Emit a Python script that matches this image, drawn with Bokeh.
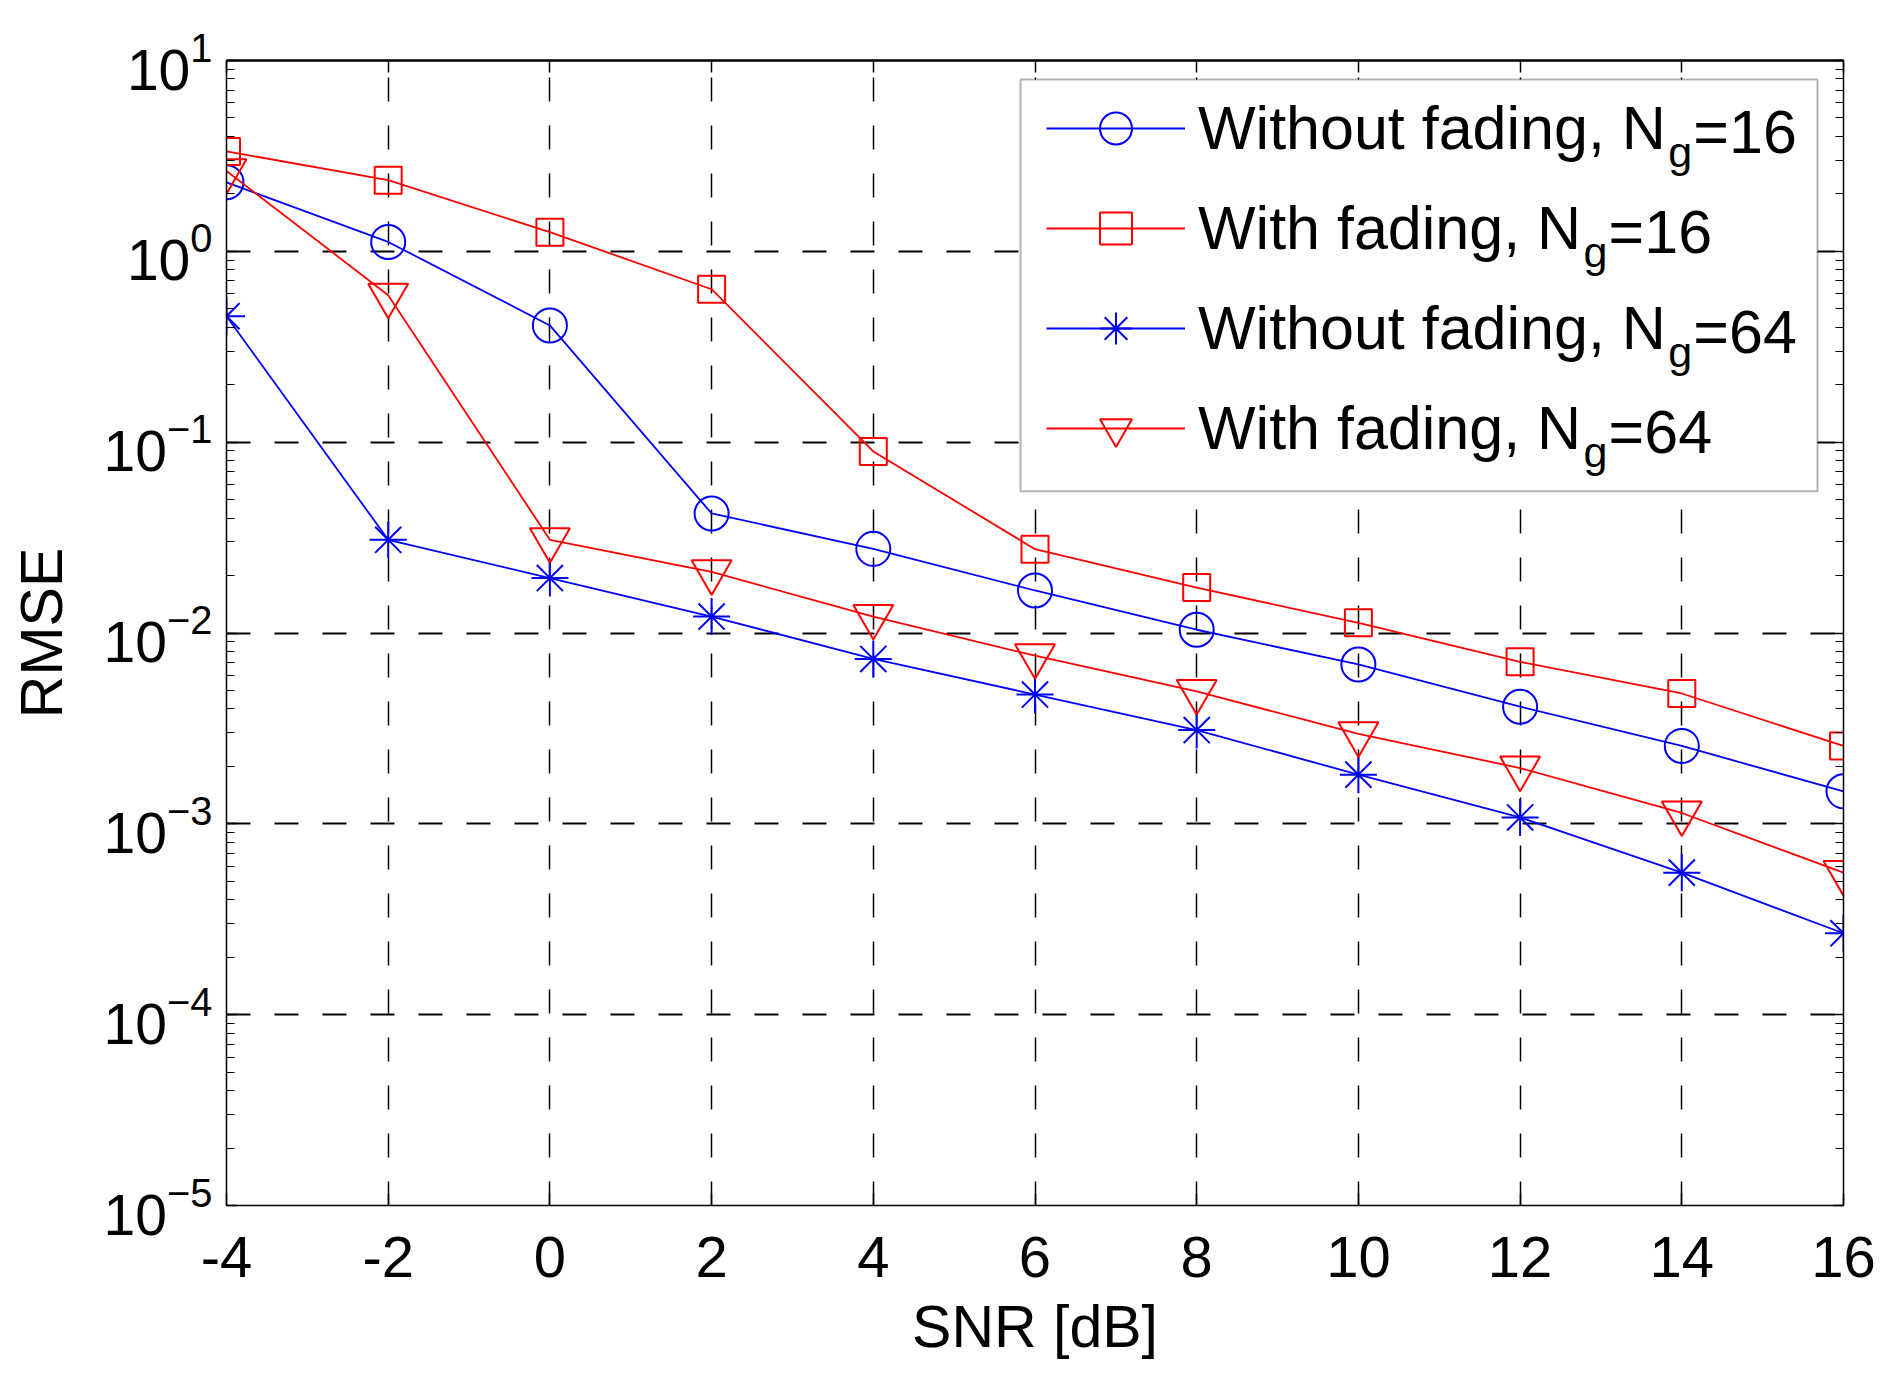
import math
from bokeh.plotting import figure
from bokeh.models import (Range1d, FixedTicker, LogTicker, LinearAxis, LogAxis, Label,
                          Legend, LegendItem, BoxAnnotation, CustomJSTickFormatter,
                          LogTickFormatter)
from bokeh.embed import file_html
from bokeh.resources import INLINE

# ---------------- data ----------------
snr = [-4, -2, 0, 2, 4, 6, 8, 10, 12, 14, 16]
x_ticks = [-4, -2, 0, 2, 4, 6, 8, 10, 12, 14, 16]

rmse_nofade_16 = [2.30, 1.12, 0.409, 0.0423, 0.0276, 0.0167, 0.0104, 0.00684, 0.00411, 0.00256, 0.00148]
rmse_fade_16 = [3.34, 2.36, 1.26, 0.633, 0.0894, 0.0275, 0.0173, 0.0113, 0.00706, 0.00482, 0.00256]
rmse_nofade_64 = [0.457, 0.0308, 0.0194, 0.0122, 0.00731, 0.00476, 0.00310, 0.00181, 0.00108, 0.000555, 0.000267]
rmse_fade_64 = [2.64, 0.589, 0.0308, 0.0209, 0.0122, 0.0076, 0.00494, 0.00296, 0.00196, 0.00114, 0.000555]

legend_main = ["Without fading, N", "With fading, N", "Without fading, N", "With fading, N"]
legend_tail = ["=16", "=16", "=64", "=64"]
legend_sub = "g"

# ---------------- layout ----------------
FONT = "Liberation Sans"
W, H = 1887, 1362
ML, MT = 226, 60
FW, FH = 1617, 1151
MR = W - ML - FW
MB = H - MT - FH
FL, FT = ML, MT
FR, FB = FL + FW, FT + FH
X0, X1 = -4, 16
Y0, Y1 = 1e-5, 1e1
LEG_FS = 61


def xd(px):
    return X0 + (px - FL) / (FR - FL) * (X1 - X0)


def yd(py):
    l0, l1 = math.log10(Y0), math.log10(Y1)
    return 10 ** (l1 - (py - FT) / (FB - FT) * (l1 - l0))


p = figure(width=W, height=H, x_range=Range1d(X0, X1), y_range=Range1d(Y0, Y1),
           y_axis_type="log", output_backend="svg", toolbar_location=None,
           min_border_left=ML, min_border_right=MR, min_border_top=MT, min_border_bottom=MB)
p.background_fill_color = "white"
p.border_fill_color = "white"
p.outline_line_color = None

empty = CustomJSTickFormatter(code="return ''")

# bottom axis
xa = p.xaxis[0]
xa.ticker = FixedTicker(ticks=x_ticks)
xa.major_label_overrides = {t: str(t) for t in x_ticks}
xa.major_label_text_font = FONT
xa.major_label_text_font_size = "58px"
xa.major_label_text_color = "black"
xa.major_label_standoff = 31
xa.axis_label = "SNR [dB]"
xa.axis_label_text_font = FONT
xa.axis_label_text_font_size = "59px"
xa.axis_label_text_font_style = "normal"
xa.axis_label_text_color = "black"
xa.axis_label_standoff = 14

# left axis: 10 with superscript exponent
ya = p.yaxis[0]
ya.ticker = LogTicker(num_minor_ticks=10)
ya.formatter = LogTickFormatter()
ya.major_label_text_font = FONT
ya.major_label_text_font_size = "57px"
ya.major_label_text_color = "black"
ya.major_label_standoff = 14
ya.axis_label = "RMSE"
ya.axis_label_text_font = FONT
ya.axis_label_text_font_size = "59px"
ya.axis_label_text_font_style = "normal"
ya.axis_label_text_color = "black"
ya.axis_label_standoff = 26

top = LinearAxis(ticker=FixedTicker(ticks=x_ticks), formatter=empty)
right = LogAxis(ticker=LogTicker(num_minor_ticks=10), formatter=empty)
p.add_layout(top, "above")
p.add_layout(right, "right")

for ax in [xa, top]:
    ax.axis_line_width = 1.5
    ax.major_tick_in = 12
    ax.major_tick_out = 0
    ax.minor_tick_line_color = None
    ax.major_tick_line_width = 1.5
for ax in [ya, right]:
    ax.axis_line_width = 1.5
    ax.major_tick_in = 10
    ax.major_tick_out = 0
    ax.minor_tick_in = 8
    ax.minor_tick_out = 0
    ax.major_tick_line_width = 1.5
    ax.minor_tick_line_width = 1.2
top.axis_line_width = 2.5

p.xgrid.ticker = FixedTicker(ticks=x_ticks)
p.xgrid.grid_line_color = "black"
p.xgrid.grid_line_dash = "24 24"
p.xgrid.grid_line_width = 1.5
p.ygrid.grid_line_color = "black"
p.ygrid.grid_line_dash = "24 24"
p.ygrid.grid_line_width = 2
p.ygrid.minor_grid_line_color = None

# ---------------- series ----------------
BLUE, RED = "#0000FF", "#FF0000"
series = [
    (rmse_nofade_16, BLUE, "circle", 34),
    (rmse_fade_16, RED, "square", 27),
    (rmse_nofade_64, BLUE, "asterisk", 37),
    (rmse_fade_64, RED, "inverted_triangle", 40),
]
items = []
for (vals, col, mk, sz), lab in zip(series, legend_main):
    ln = p.line(snr, vals, line_color=col, line_width=1.8)
    sc = p.scatter(snr, vals, marker=mk, size=sz, fill_color=None, line_color=col, line_width=2)
    items.append(LegendItem(label=lab, renderers=[ln, sc]))

# ---------------- legend ----------------
box = BoxAnnotation(left=xd(1020), right=xd(1817), top=yd(79), bottom=yd(493),
                    fill_color="white", fill_alpha=1.0, line_color="black", line_width=2)
p.add_layout(box)

legend = Legend(items=items, location=(810, 727), orientation="vertical", padding=10, margin=0,
                spacing=20, glyph_width=139, glyph_height=80, label_height=80, label_standoff=13,
                label_text_font=FONT, label_text_font_size=f"{LEG_FS}px", label_text_baseline="middle",
                label_text_color="black", background_fill_alpha=0, border_line_alpha=0)
p.add_layout(legend, "center")

main_w_em = {"Without fading, N": 7.67, "With fading, N": 6.28}
for i, (m, t) in enumerate(zip(legend_main, legend_tail)):
    base = 131 + 100 * i
    gx = 1198 + main_w_em[m] * LEG_FS + 2
    for txt, px, py, fs in [(legend_sub, gx, base + 20, "43px"), (t, gx + 25, base, f"{LEG_FS}px")]:
        p.add_layout(Label(x=X0, y=Y1, x_offset=px - FL, y_offset=FT - py, text=txt,
                           text_align="left", text_baseline="alphabetic",
                           text_font=FONT, text_font_size=fs, text_color="black"))

open("out.html", "w").write(file_html(p, INLINE))
